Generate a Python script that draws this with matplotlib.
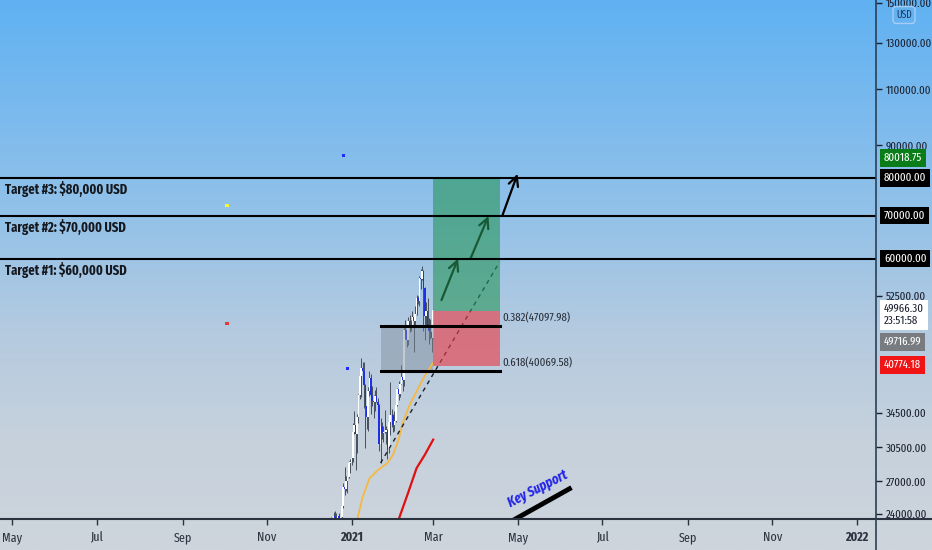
import numpy as np
import pandas as pd
import matplotlib
matplotlib.use("Agg")
import matplotlib.pyplot as plt
import matplotlib.dates as mdates
import matplotlib.transforms as mtransforms
from matplotlib.lines import Line2D
from matplotlib.ticker import FixedLocator, NullLocator, FuncFormatter

plt.rcParams['font.family'] = ['Fira Sans Extra Condensed', 'DejaVu Sans']

# daily BTC/USD candles, 2020-12-15 .. 2021-03-01
candle_start = "2020-12-15"
opens = [19275, 19426, 21335, 22797, 23107, 23821, 23455, 22719, 23810, 23232,
         23729, 24712, 26493, 26281, 27079, 27385, 28876, 28923, 29331, 32176,
         33000, 31989, 33950, 36769, 39432, 40587, 40088, 38150, 35410, 34050,
         37371, 39141, 36733, 35994, 35825, 36622, 35901, 35468, 30852, 32950,
         32078, 32259, 32251, 32465, 30366, 33368, 34246, 34262, 33092, 33517,
         35472, 37620, 36936, 38289, 39181, 38795, 46374, 46420, 44807, 47968,
         47298, 47156, 48580, 47911, 49133, 52118, 51553, 55906, 55841, 57412,
         54087, 48891, 49677, 47074, 46277, 46103, 45134]
highs = [19570, 21560, 23800, 23285, 24171, 24295, 24102, 23838, 24100, 23789,
         24789, 26867, 28422, 27500, 27410, 28996, 29300, 29600, 33300, 34778,
         33600, 34360, 36939, 40365, 41950, 41380, 41350, 38264, 36628, 37850,
         40100, 39700, 37950, 36852, 37469, 37850, 36415, 35600, 33826, 33456,
         32944, 34875, 32921, 32557, 33783, 38531, 34933, 34342, 34717, 35984,
         37662, 38708, 38310, 40955, 39700, 46794, 48200, 47310, 48678, 48985,
         48150, 49707, 49010, 50689, 52618, 52530, 56368, 57700, 58352, 57508,
         54183, 51375, 52041, 48424, 48394, 46638, 50000]
lows = [19050, 19300, 21230, 22350, 22750, 23060, 21815, 22353, 22600, 22703,
        23433, 24500, 25700, 26101, 25880, 27320, 27850, 28624, 28946, 31962,
        28130, 29900, 33288, 36300, 36500, 38720, 35111, 30420, 32531, 32380,
        36701, 34408, 35357, 33850, 34800, 35844, 33400, 30071, 28850, 31390,
        31106, 32053, 30837, 29241, 29842, 31915, 32825, 32171, 32296, 33418,
        35362, 36161, 36570, 38215, 37351, 37988, 45000, 43727, 43994, 46125,
        46202, 47014, 42988, 47003, 48947, 50901, 50710, 53863, 55477, 46250,
        44892, 47000, 46674, 44106, 45000, 43000, 45134]
closes = [19426, 21335, 22797, 23107, 23821, 23455, 22719, 23810, 23232, 23729,
          24712, 26493, 26281, 27079, 27385, 28876, 28923, 29331, 32178, 33000,
          31988, 33949, 36769, 39432, 40582, 40088, 38150, 35404, 34051, 37371,
          39144, 36742, 35994, 35828, 36631, 35891, 35468, 30850, 32945, 32078,
          32259, 32254, 32467, 30366, 33364, 34252, 34262, 33092, 33526, 35466,
          37618, 36936, 38290, 39186, 38795, 46374, 46420, 44807, 47969, 47287,
          47153, 48577, 47911, 49133, 52119, 51552, 55906, 55841, 57408, 54087,
          48891, 49676, 47073, 46277, 46106, 45135, 49966.30]

# moving averages
ma_fast_dates = ["2021-01-04", "2021-01-09", "2021-01-14", "2021-01-20", "2021-01-27",
                 "2021-01-31", "2021-02-04", "2021-02-07", "2021-02-12", "2021-02-16",
                 "2021-02-22", "2021-03-01"]
ma_fast_vals = [23000, 25500, 27300, 28100, 28830, 29700, 31350, 33300, 35500, 36900,
                39100, 41300]
ma_slow_dates = ["2021-02-03", "2021-02-11", "2021-02-17", "2021-02-23", "2021-03-01"]
ma_slow_vals = [23200, 25950, 28300, 29700, 31350]

# trend line (dashed)
trend_dates = ["2021-01-22", "2021-04-18"]
trend_vals = [28830, 59300]

# arrows: start and end points
arrow_x0 = ["2021-03-07", "2021-03-28", "2021-04-20"]
arrow_y0 = [51700, 60000, 70000]
arrow_x1 = ["2021-03-19", "2021-04-10", "2021-05-01"]
arrow_y1 = [60000, 69900, 81300]

targets = [80000, 70000, 60000]
target_labels = ["Target #3: $80,000 USD", "Target #2: $70,000 USD", "Target #1: $60,000 USD"]

fib_levels = [47097.98, 40069.58]
fib_labels = ["0.382(47097.98)", "0.618(40069.58)"]
fib_start, fib_end = "2021-01-22", "2021-04-18"
pos_start = "2021-03-01"

entry = 49716.99
take_profit = 80018.75
stop_loss = 40774.18
last_price = 49966.30
countdown = "23:51:58"

dot_dates = ["2020-12-26", "2020-10-03", "2020-10-03", "2020-12-29"]
dot_vals = [86900, 72600, 47600, 40400]
dot_colors = ["#1a2cff", "#f5f53c", "#e23a3a", "#1a2cff"]

support_dates = ["2021-04-25", "2021-06-09"]
support_vals = [23300, 26400]

price_ticks = [24000, 27000, 30500, 34500, 52500, 90000, 110000, 130000, 150000]
month_ticks = ["2020-05-01", "2020-07-01", "2020-09-01", "2020-11-01", "2021-01-01",
               "2021-03-01", "2021-05-01", "2021-07-01", "2021-09-01", "2021-11-01",
               "2022-01-01"]
month_labels = ["May", "Jul", "Sep", "Nov", "2021", "Mar", "May", "Jul", "Sep", "Nov", "2022"]


def d(s):
    return mdates.date2num(pd.to_datetime(s))


W, H = 932, 550
fig = plt.figure(figsize=(W / 100, H / 100), dpi=100)

# gradient background
bg = fig.add_axes([0, 0, 1, 1], zorder=-10)
stops = np.array([[96, 177, 242], [122, 186, 238], [148, 194, 232],
                  [180, 202, 224], [198, 209, 220], [206, 213, 221]]) / 255
pos = np.linspace(0, 1, len(stops))
yy = np.linspace(0, 1, 400)
grad = np.stack([np.interp(yy, pos, stops[:, k]) for k in range(3)], axis=1)
bg.imshow(grad[:, None, :], aspect='auto', extent=[0, 1, 0, 1])
bg.set_axis_off()

plot_right = 876 / W
plot_bottom = 31 / H
ax = fig.add_axes([0, plot_bottom, plot_right, 1 - plot_bottom])
ax.patch.set_alpha(0)
ax.set_yscale('log')
ax.set_ylim(23590, 151600)
ax.set_xlim(d("2020-04-22"), d("2022-01-15"))
for s in ax.spines.values():
    s.set_visible(False)

# candles
cd = mdates.date2num(pd.date_range(candle_start, periods=len(opens)))
o, h, l, c = map(np.asarray, (opens, highs, lows, closes))
up = c >= o
ax.vlines(cd, l, h, color='#46505e', lw=0.7, zorder=3)
ax.bar(cd, np.abs(c - o), bottom=np.minimum(o, c), width=1.15,
       color=np.where(up, 'white', '#1f2fe6'), zorder=4)

# fib zone box + lines
ax.fill_between([d(fib_start), d(pos_start)], fib_levels[1], fib_levels[0],
                color='#7d8a98', alpha=0.45, lw=0, zorder=5)
for lvl, lab in zip(fib_levels, fib_labels):
    ax.plot([d(fib_start), d(fib_end)], [lvl, lvl], color='black', lw=2.2, zorder=8)
    ax.annotate(lab, xy=(d(fib_end), lvl), xytext=(3, 3), textcoords='offset pixels',
                ha='left', va='bottom', fontsize=8.5, color='#2a313b', zorder=9)

# moving averages
ax.plot([d(t) for t in ma_fast_dates], ma_fast_vals, color='#f5b841', lw=1.3, zorder=5)
ax.plot([d(t) for t in ma_slow_dates], ma_slow_vals, color='#e01010', lw=1.6, zorder=5)

# dashed trend line
ax.plot([d(t) for t in trend_dates], trend_vals, color='#1a1f28', lw=1.0,
        dashes=(3, 3), zorder=5)

# arrows
for x0, y0, x1, y1 in zip(arrow_x0, arrow_y0, arrow_x1, arrow_y1):
    ax.annotate('', xy=(d(x1), y1), xytext=(d(x0), y0),
                arrowprops=dict(arrowstyle='->,head_length=0.7,head_width=0.35',
                                color='black', lw=1.6, shrinkA=0, shrinkB=0),
                zorder=5)

# long position boxes
ax.fill_between([d(pos_start), d(fib_end)], entry, take_profit,
                color='#28965a', alpha=0.6, lw=0, zorder=6)
ax.fill_between([d(pos_start), d(fib_end)], stop_loss, entry,
                color='#eb3c46', alpha=0.62, lw=0, zorder=6)

# target lines and texts
ytrans = mtransforms.blended_transform_factory(ax.transAxes, ax.transData)
for t, lab in zip(targets, target_labels):
    ax.axhline(t, color='black', lw=1.5, zorder=7)
    ax.annotate(lab, xy=(0, t), xycoords=ytrans, xytext=(5, -3),
                textcoords='offset pixels', ha='left', va='top',
                fontsize=9.8, fontweight='bold', color='#15191f', zorder=9)

# stray indicator dots
ax.scatter([d(t) for t in dot_dates], dot_vals, s=5, c=dot_colors, marker='s',
           lw=0, zorder=6)

# key support
ax.plot([d(t) for t in support_dates], support_vals, color='black', lw=3.5,
        solid_capstyle='butt', zorder=6)
ax.text(d("2021-04-27"), 24400, "Key Support", rotation=27, rotation_mode='anchor',
        ha='left', va='bottom', fontsize=10, fontweight='bold', fontstyle='italic',
        color='#2424e8', zorder=7)

# price scale
ax.yaxis.tick_right()
ax.yaxis.set_major_locator(FixedLocator(price_ticks))
ax.yaxis.set_minor_locator(NullLocator())
ax.yaxis.set_major_formatter(FuncFormatter(lambda v, p: f"{v:.2f}"))
ax.tick_params(axis='y', direction='out', length=4, width=1, pad=3,
               labelsize=8.5, colors='#1c2130')

# time scale
ax.xaxis.set_major_locator(FixedLocator([d(t) for t in month_ticks]))
ax.xaxis.set_minor_locator(NullLocator())
ax.set_xticklabels(month_labels)
ax.tick_params(axis='x', direction='out', length=4, width=1, pad=5,
               labelsize=9.5, colors='#2e3440')
for lab in ax.get_xticklabels():
    if lab.get_text().isdigit():
        lab.set_fontweight('bold')

# boxed price labels
def price_tag(val, text, fc, tc, dy):
    ax.annotate(text, xy=(1, val), xycoords=ytrans, xytext=(8, dy),
                textcoords='offset pixels', ha='left', va='center',
                fontsize=8.5, color=tc, zorder=10, annotation_clip=False,
                linespacing=1.2,
                bbox=dict(boxstyle='square,pad=0.3', fc=fc, ec='none'))

price_tag(take_profit, f"{take_profit:.2f}", '#0b7d18', 'white', 20)
for t in targets:
    price_tag(t, f"{t:.2f}", 'black', 'white', 0)
price_tag(last_price, f"{last_price:.2f}\n{countdown}", 'white', '#1c2130', -5)
price_tag(entry, f"{entry:.2f}", '#787b80', 'white', -31)
price_tag(stop_loss, f"{stop_loss:.2f}", '#f01414', 'white', 1)

# axis frame lines
fig.add_artist(Line2D([0, 1], [plot_bottom, plot_bottom], color='#2b3340', lw=1.5))
fig.add_artist(Line2D([plot_right, plot_right], [0, 1], color='#2b4055', lw=1.2))

# currency badge
fig.text(904 / W, 1 - 15 / H, "USD", ha='center', va='center', fontsize=7.5,
         color='#1d3c66',
         bbox=dict(boxstyle='round,pad=0.3,rounding_size=0.3', fc='none', ec='#a9cdf2', lw=1))

fig.savefig("out.png", dpi=100)
